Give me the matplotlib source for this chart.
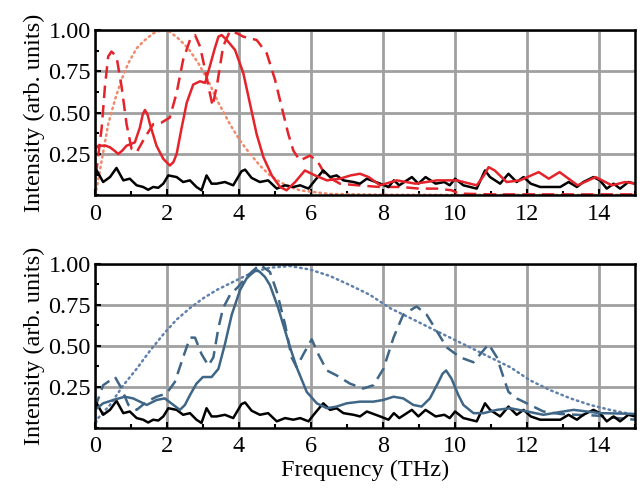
"""
Two-panel THz spectra: intensity vs frequency
"""

import matplotlib
matplotlib.use('Agg')
import matplotlib.pyplot as plt
from matplotlib.ticker import MultipleLocator

plt.rcParams['font.family'] = ['Liberation Serif', 'DejaVu Serif']

# ---- top panel (red) ----
red_solid_f = [0.0, 0.1, 0.19, 0.3, 0.42, 0.54, 0.65, 0.76, 0.88, 1.0, 1.11, 1.25, 1.33,
               1.39, 1.46, 1.53, 1.71, 1.9, 2.08, 2.18, 2.27, 2.41, 2.55, 2.73, 2.92,
               3.06, 3.19, 3.33, 3.43, 3.52, 3.66, 3.89, 4.12, 4.31, 4.49, 4.68, 4.91,
               5.14, 5.32, 5.56, 5.83, 6.11, 6.44, 6.8, 7.1, 7.36, 7.6, 7.92, 8.38,
               8.9, 9.5, 10.05, 10.6, 10.8, 10.93, 11.1, 11.43, 11.8, 12.32, 12.6,
               12.9, 13.4, 13.9, 14.35, 14.72, 15.0]
red_solid_v = [0.28, 0.30, 0.30, 0.30, 0.29, 0.27, 0.25, 0.27, 0.30, 0.31, 0.32, 0.41, 0.49,
               0.516, 0.49, 0.43, 0.30, 0.22, 0.18, 0.20, 0.25, 0.41, 0.56, 0.67, 0.69,
               0.68, 0.78, 0.89, 0.96, 0.97, 0.94, 0.88, 0.74, 0.55, 0.37, 0.23, 0.12,
               0.05, 0.03, 0.08, 0.15, 0.12, 0.09, 0.10, 0.12, 0.13, 0.11, 0.06, 0.09,
               0.07, 0.09, 0.09, 0.06, 0.12, 0.17, 0.15, 0.08, 0.09, 0.14, 0.10,
               0.14, 0.06, 0.11, 0.06, 0.08, 0.07]

red_dash_f = [0.0, 0.05, 0.19, 0.28, 0.37, 0.46, 0.6, 0.74, 0.88, 1.02, 1.16, 1.39, 1.62,
              1.85, 2.08, 2.27, 2.45, 2.64, 2.78, 2.92, 3.06, 3.19, 3.27, 3.4, 3.56,
              3.75, 3.95, 4.12, 4.49, 4.77, 5.0, 5.19, 5.37, 5.51, 5.69, 5.97, 6.16,
              6.25, 6.4, 6.8, 7.3, 7.9, 8.5, 9.0, 9.5, 9.9, 10.1, 11.0, 12.0, 13.0,
              14.0, 15.0]
red_dash_v = [0.12, 0.16, 0.41, 0.66, 0.84, 0.87, 0.84, 0.66, 0.43, 0.28, 0.26, 0.35, 0.43,
              0.44, 0.47, 0.62, 0.82, 0.94, 0.97, 0.90, 0.76, 0.62, 0.54, 0.68, 0.90,
              0.995, 0.98, 0.96, 0.94, 0.86, 0.70, 0.53, 0.37, 0.27, 0.21, 0.24, 0.21,
              0.18, 0.12, 0.07, 0.06, 0.05, 0.05, 0.04, 0.04, 0.03, 0.01, 0.005,
              0.005, 0.005, 0.005, 0.005]

red_dot_f = [0.0, 0.05, 0.19, 0.37, 0.56, 0.74, 0.93, 1.16, 1.39, 1.62, 1.85, 2.08, 2.31,
             2.59, 2.87, 3.15, 3.43, 3.75, 4.03, 4.31, 4.58, 4.86, 5.14, 5.42, 5.69,
             6.06, 6.5, 8.0, 10.0, 12.0, 15.0]
red_dot_v = [0.0, 0.04, 0.21, 0.43, 0.58, 0.70, 0.80, 0.89, 0.94, 0.98, 1.0, 0.99, 0.95,
             0.89, 0.80, 0.69, 0.56, 0.43, 0.33, 0.25, 0.18, 0.12, 0.08, 0.05, 0.03,
             0.02, 0.008, 0.003, 0.002, 0.002, 0.002]

# ---- bottom panel (blue) ----
blue_solid_f = [0.0, 0.23, 0.51, 0.83, 1.06, 1.44, 1.71, 1.94, 2.18, 2.36, 2.5, 2.64, 2.82,
                3.0, 3.24, 3.43, 3.61, 3.8, 4.03, 4.21, 4.4, 4.5, 4.58, 4.72, 4.86, 5.09,
                5.42, 5.6, 5.88, 6.16, 6.44, 6.71, 6.99, 7.36, 7.73, 8.0, 8.29, 8.56,
                8.84, 9.07, 9.3, 9.54, 9.65, 9.75, 9.9, 10.09, 10.23, 10.51, 10.79,
                11.16, 11.53, 12.0, 12.45, 12.92, 13.29, 13.66, 14.03, 14.5, 15.0]
blue_solid_v = [0.11, 0.15, 0.17, 0.19, 0.18, 0.14, 0.17, 0.18, 0.14, 0.11, 0.14, 0.20, 0.27,
                0.31, 0.31, 0.36, 0.51, 0.69, 0.84, 0.91, 0.95, 0.96, 0.95, 0.92, 0.87, 0.73,
                0.49, 0.37, 0.22, 0.15, 0.12, 0.13, 0.15, 0.16, 0.16, 0.17, 0.19, 0.18,
                0.14, 0.13, 0.18, 0.28, 0.33, 0.35, 0.30, 0.20, 0.14, 0.09, 0.09,
                0.11, 0.12, 0.10, 0.08, 0.097, 0.11, 0.10, 0.09, 0.088, 0.085]

blue_dash_f = [0.0, 0.23, 0.56, 0.74, 0.93, 1.16, 1.44, 1.71, 1.99, 2.22, 2.45, 2.64, 2.78,
               2.96, 3.15, 3.29, 3.43, 3.56, 3.75, 3.98, 4.25, 4.58, 4.86, 5.05, 5.28,
               5.46, 5.6, 5.79, 6.02, 6.2, 6.44, 6.71, 7.08, 7.45, 7.73, 8.01, 8.29,
               8.56, 8.93, 9.21, 9.49, 9.77, 10.14, 10.51, 10.74, 10.93, 11.16, 11.34,
               11.48, 11.71, 12.08, 12.45, 12.92, 13.38, 13.94, 14.5, 15.0]
blue_dash_v = [0.12, 0.26, 0.31, 0.24, 0.14, 0.11, 0.16, 0.19, 0.21, 0.28, 0.43, 0.55, 0.55,
               0.45, 0.38, 0.43, 0.61, 0.73, 0.81, 0.86, 0.93, 0.995, 0.95, 0.83, 0.63,
               0.43, 0.37, 0.45, 0.54, 0.45, 0.35, 0.32, 0.27, 0.24, 0.26, 0.36, 0.55,
               0.69, 0.74, 0.69, 0.59, 0.49, 0.43, 0.40, 0.46, 0.51, 0.43, 0.31,
               0.22, 0.18, 0.14, 0.10, 0.085, 0.08, 0.075, 0.06, 0.05]

blue_dot_f = [0.0, 0.05, 0.42, 0.79, 1.16, 1.53, 1.9, 2.27, 2.64, 3.01, 3.38, 3.75, 4.12,
              4.49, 4.86, 5.42, 5.97, 6.53, 7.08, 7.64, 8.19, 8.75, 9.3, 9.86, 10.42,
              10.97, 11.53, 12.08, 12.64, 13.2, 13.75, 14.3, 14.86, 15.0]
blue_dot_v = [0.0, 0.05, 0.14, 0.26, 0.36, 0.47, 0.57, 0.66, 0.73, 0.79, 0.84, 0.88, 0.92,
              0.955, 0.976, 0.986, 0.965, 0.925, 0.87, 0.81, 0.73, 0.67, 0.61, 0.55, 0.49,
              0.43, 0.37, 0.29, 0.23, 0.18, 0.14, 0.11, 0.085, 0.08]

# ---- reference (black), same in both panels ----
ref_f = [0.0, 0.05, 0.23, 0.42, 0.6, 0.79, 0.97, 1.16, 1.34, 1.48, 1.62, 1.76, 1.9, 2.04,
         2.27, 2.45, 2.64, 2.82, 2.96, 3.1, 3.24, 3.38, 3.61, 3.84, 4.07, 4.17, 4.35,
         4.58, 4.81, 5.05, 5.28, 5.51, 5.7, 5.93, 6.11, 6.34, 6.53, 6.71, 6.9, 7.18,
         7.36, 7.55, 7.92, 8.15, 8.3, 8.45, 8.8, 8.98, 9.18, 9.46, 9.7, 9.85, 10.0,
         10.23, 10.6, 10.83, 10.97, 11.25, 11.48, 11.71, 11.9, 12.1, 12.36, 12.64,
         12.92, 13.15, 13.38, 13.56, 13.84, 14.02, 14.21, 14.4, 14.58, 14.81, 15.0]
ref_v = [0.12, 0.15, 0.08, 0.11, 0.165, 0.09, 0.10, 0.06, 0.05, 0.033, 0.05, 0.045, 0.07,
         0.12, 0.11, 0.08, 0.09, 0.05, 0.03, 0.12, 0.07, 0.07, 0.08, 0.06, 0.145, 0.155,
         0.105, 0.08, 0.09, 0.04, 0.06, 0.05, 0.06, 0.04, 0.09, 0.15, 0.11, 0.12, 0.09,
         0.08, 0.07, 0.10, 0.07, 0.05, 0.09, 0.06, 0.11, 0.07, 0.11, 0.07, 0.08, 0.06,
         0.10, 0.06, 0.04, 0.15, 0.11, 0.07, 0.13, 0.08, 0.11, 0.07, 0.05, 0.05,
         0.05, 0.08, 0.05, 0.08, 0.11, 0.09, 0.04, 0.07, 0.04, 0.08, 0.07]

RED = '#e4232b'
RED_DOT = '#f08a6a'
BLUE = '#3f6686'
BLUE_DOT = '#5f80ab'

fig = plt.figure(figsize=(6.41, 4.93), dpi=100)
ax1 = fig.add_axes([0.148, 0.604, 0.843, 0.335])
ax2 = fig.add_axes([0.148, 0.132, 0.843, 0.333])

lw = 1.8
dots = (0, (0.6, 1.6))
dashes = (0, (5, 2.8))

ax1.plot(red_dot_f, red_dot_v, color=RED_DOT, lw=1.8, ls=dots, dash_capstyle='round')
ax1.plot(red_dash_f, red_dash_v, color=RED, lw=lw, ls=dashes)
ax1.plot(ref_f, ref_v, color='black', lw=lw)
ax1.plot(red_solid_f, red_solid_v, color=RED, lw=lw)

ax2.plot(blue_dot_f, blue_dot_v, color=BLUE_DOT, lw=1.8, ls=dots, dash_capstyle='round')
ax2.plot(blue_dash_f, blue_dash_v, color=BLUE, lw=lw, ls=dashes)
ax2.plot(ref_f, ref_v, color='black', lw=lw)
ax2.plot(blue_solid_f, blue_solid_v, color=BLUE, lw=lw)

for ax in (ax1, ax2):
    ax.set_xlim(0, 15)
    ax.set_ylim(0, 1.0)
    ax.set_xticks([0, 2, 4, 6, 8, 10, 12, 14])
    ax.set_yticks([0.25, 0.5, 0.75, 1.0])
    ax.set_yticklabels(['0.25', '0.50', '0.75', '1.00'])
    ax.xaxis.set_minor_locator(MultipleLocator(1))
    ax.yaxis.set_minor_locator(MultipleLocator(0.125))
    ax.grid(True, which='major', color='#a0a0a0', lw=2.0, zorder=0)
    ax.set_axisbelow(True)
    ax.tick_params(which='both', direction='in', labelsize=17.5, top=False, right=False)
    ax.tick_params(which='major', length=4, width=1.5)
    ax.tick_params(which='minor', length=3, width=1.5)
    ax.tick_params(axis='y', pad=3)
    ax.tick_params(axis='x', pad=6)
    for s in ax.spines.values():
        s.set_linewidth(1.8)
        s.set_color('black')
    ax.set_ylabel('Intensity (arb. units)', fontsize=17.5, labelpad=2)

ax2.set_xlabel('Frequency (THz)', fontsize=17.5, labelpad=2)

fig.savefig('out.png', dpi=100)
